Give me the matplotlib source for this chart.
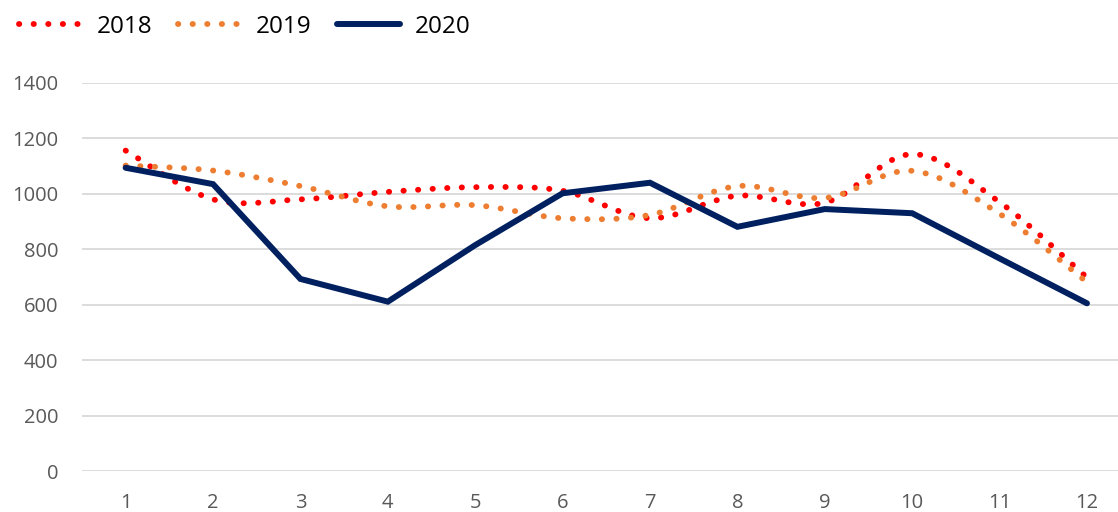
import numpy as np
import matplotlib.pyplot as plt
from matplotlib.path import Path
from matplotlib.patches import PathPatch
from matplotlib.lines import Line2D

# Monthly values
months = list(range(1, 13))
y2018 = [1156, 980, 980, 1007, 1024, 1011, 912, 993, 968, 1143, 970, 698]
y2019 = [1102, 1084, 1028, 955, 959, 912, 924, 1028, 985, 1083, 928, 681]
y2020 = [1094, 1035, 693, 611, 815, 1002, 1040, 881, 945, 930, 767, 605]
yticks = [0, 200, 400, 600, 800, 1000, 1200, 1400]

red = "#FF0000"
orange = "#ED7D31"
navy = "#002060"

plt.rcParams['font.family'] = ['Open Sans', 'DejaVu Sans']


def smooth_path(xs, ys):
    # Excel-style smoothed line: cubic bezier through every point
    pts = np.column_stack([xs, ys]).astype(float)
    n = len(pts)
    verts = [pts[0]]
    codes = [Path.MOVETO]
    for i in range(n - 1):
        p0 = pts[i - 1] if i > 0 else pts[i]
        p1 = pts[i]
        p2 = pts[i + 1]
        p3 = pts[i + 2] if i + 2 < n else pts[i + 1]
        verts += [p1 + (p2 - p0) / 6, p2 - (p3 - p1) / 6, p2]
        codes += [Path.CURVE4] * 3
    return Path(verts, codes)


fig = plt.figure(figsize=(11.18, 5.12), dpi=100)
ax = fig.add_axes([0.0733, 0.080, 0.9267, 0.758])

dot_lw = 4.2
dot_style = (0, (0.05, 2.45))
for ys, col in [(y2018, red), (y2019, orange)]:
    patch = PathPatch(smooth_path(months, ys), facecolor="none", edgecolor=col,
                      lw=dot_lw, linestyle=dot_style, capstyle="round", zorder=3)
    ax.add_patch(patch)

ax.plot(months, y2020, color=navy, lw=4.3, solid_capstyle="round",
        solid_joinstyle="miter", zorder=4)

ax.set_xlim(0.5, 12.355)
ax.set_ylim(0, 1400)
ax.set_xticks(months)
ax.set_yticks(yticks)
ax.tick_params(length=0, labelsize=14.5, labelcolor="#595959")
ax.tick_params(axis="x", pad=16)
ax.tick_params(axis="y", pad=17)
for s in ax.spines.values():
    s.set_visible(False)
ax.grid(axis="y", color="#D9D9D9", lw=1.3)
ax.set_axisbelow(True)

handles = [
    Line2D([], [], color=red, lw=dot_lw, linestyle=dot_style, dash_capstyle="round"),
    Line2D([], [], color=orange, lw=dot_lw, linestyle=dot_style, dash_capstyle="round"),
    Line2D([], [], color=navy, lw=4.3, solid_capstyle="round"),
]
fig.legend(handles, ["2018", "2019", "2020"], loc="upper left",
           bbox_to_anchor=(0.004, 1.0), ncol=3, frameon=False, fontsize=17.5,
           handlelength=2.6, handletextpad=0.6, columnspacing=1.05,
           borderaxespad=0.2)

fig.savefig("out.png", dpi=100)
